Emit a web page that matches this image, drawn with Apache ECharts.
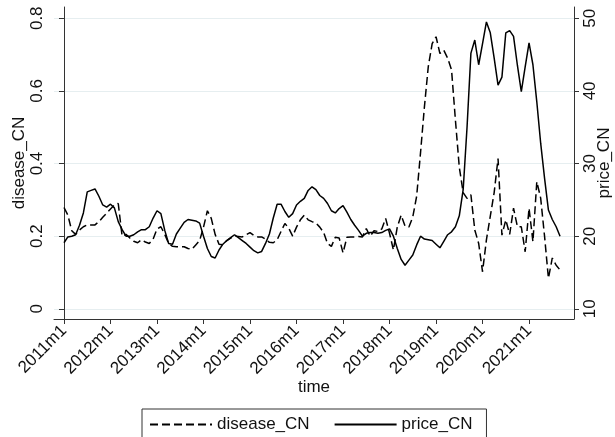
<!DOCTYPE html>
<html>
<head>
<meta charset="utf-8">
<script src="https://cdn.jsdelivr.net/npm/echarts@6/dist/echarts.min.js"></script>
<style>
html,body{margin:0;padding:0;background:#fff;}
#c{width:615px;height:437px;}
</style>
</head>
<body>
<div id="c"></div>
<script>
// Monthly observations, 2011m1 .. 2021m9
const startYear = 2011;
const diseaseCN = [
0.279,0.258,0.215,0.205,0.217,0.226,0.231,0.231,0.231,0.240,0.252,0.263,
0.275,0.286,0.290,0.200,0.205,0.195,0.186,0.182,0.190,0.184,0.180,0.192,
0.220,0.226,0.205,0.180,0.172,0.171,0.171,0.171,0.166,0.164,0.176,0.188,
0.225,0.270,0.249,0.205,0.178,0.176,0.188,0.195,0.200,0.199,0.198,0.204,
0.210,0.202,0.198,0.198,0.192,0.183,0.182,0.190,0.213,0.235,0.222,0.200,
0.225,0.245,0.258,0.245,0.240,0.236,0.225,0.210,0.180,0.172,0.197,0.195,
0.154,0.197,0.198,0.198,0.199,0.198,0.221,0.200,0.215,0.213,0.220,0.249,
0.208,0.162,0.225,0.258,0.228,0.225,0.253,0.310,0.430,0.556,0.667,0.730,
0.749,0.703,0.712,0.690,0.658,0.520,0.390,0.320,0.304,0.314,0.217,0.180,
0.102,0.190,0.255,0.320,0.414,0.203,0.245,0.205,0.277,0.226,0.226,0.157,
0.277,0.185,0.350,0.305,0.200,0.084,0.140,0.120,0.107
];
const priceCN = [
19.1,19.9,20.0,20.2,21.5,23.2,26.1,26.3,26.5,25.5,24.3,24.0,
24.4,23.9,22.0,20.9,20.0,20.0,20.2,20.6,20.9,20.9,21.3,22.5,
23.5,23.1,20.8,19.0,18.9,20.3,21.1,21.9,22.3,22.2,22.1,21.8,
20.0,18.3,17.2,17.0,18.1,18.9,19.4,19.8,20.2,19.8,19.4,19.0,
18.5,18.0,17.7,17.9,19.0,20.3,22.5,24.4,24.4,23.4,22.6,23.1,
24.3,24.8,25.2,26.3,26.8,26.4,25.6,25.2,24.5,23.5,23.2,23.8,
24.2,23.3,22.3,21.5,20.8,20.0,20.4,20.5,20.5,20.4,20.5,20.8,
21.0,20.0,18.3,16.8,16.0,16.7,17.4,18.8,20.0,19.6,19.5,19.4,
18.9,18.4,19.3,20.2,20.6,21.3,22.8,26.4,35.0,45.2,47.0,43.6,
46.5,49.5,48.0,44.5,40.8,41.9,48.0,48.3,47.5,43.5,39.9,43.3,
46.6,43.6,38.5,32.8,28.0,23.6,22.3,21.3,20.0
];
const timeTickLabels = ['2011m1','2012m1','2013m1','2014m1','2015m1','2016m1','2017m1','2018m1','2019m1','2020m1','2021m1'];
const leftTickLabels = ['0','0.2','0.4','0.6','0.8'];
const rightTickLabels = ['10','20','30','40','50'];

const timeTickPos = timeTickLabels.map(s => (parseInt(s) - startYear) * 12);
const leftTickPos = leftTickLabels.map(Number);
const rightTickPos = rightTickLabels.map(Number);

const FONT = 'Liberation Sans, Arial, sans-serif';
const AX = '#333';

const chart = echarts.init(document.getElementById('c'), null, {renderer: 'canvas'});
chart.setOption({
  animation: false,
  backgroundColor: '#fff',
  grid: {left: 54, right: 41, top: 7, bottom: 118, containLabel: false, outerBoundsMode: 'none'},
  legend: {
    left: 142, top: 409,
    itemWidth: 62, itemHeight: 12, itemGap: 24,
    padding: [7, 14, 8, 7],
    borderColor: '#333', borderWidth: 1,
    itemStyle: {opacity: 0},
    textStyle: {fontFamily: FONT, fontSize: 17, color: '#111'},
    data: ['disease_CN', 'price_CN']
  },
  xAxis: {
    type: 'value', min: -2.58, max: 131.6,
    name: 'time', nameLocation: 'middle', nameGap: 60, nameMoveOverlap: false,
    nameTextStyle: {fontFamily: FONT, fontSize: 17, color: '#111'},
    axisLine: {show: true, onZero: false, lineStyle: {color: AX, width: 1}},
    axisTick: {show: true, length: 5, customValues: timeTickPos, lineStyle: {color: AX}},
    axisLabel: {
      customValues: timeTickPos, rotate: 45, margin: 9,
      fontFamily: FONT, fontSize: 17, color: '#111',
      formatter: v => timeTickLabels[timeTickPos.indexOf(Math.round(v))] || ''
    },
    splitLine: {show: false}
  },
  yAxis: [
    {
      type: 'value', min: -0.028, max: 0.831, position: 'left',
      name: 'disease_CN', nameLocation: 'middle', nameGap: 26, nameRotate: 90, nameMoveOverlap: false,
      nameTextStyle: {fontFamily: FONT, fontSize: 17, color: '#111'},
      axisLine: {show: true, lineStyle: {color: AX, width: 1}},
      axisTick: {show: true, length: 5, customValues: leftTickPos, lineStyle: {color: AX}},
      axisLabel: {customValues: leftTickPos, rotate: 90, margin: 8,
        fontFamily: FONT, fontSize: 17, color: '#111',
        formatter: v => leftTickLabels[leftTickPos.indexOf(+v.toFixed(1))] || ''},
      splitLine: {show: true, customValues: leftTickPos, lineStyle: {color: '#e6eef0', width: 1}}
    },
    {
      type: 'value', min: 8.6, max: 51.55, position: 'right',
      name: 'price_CN', nameLocation: 'middle', nameGap: 22, nameRotate: 90, nameMoveOverlap: false,
      nameTextStyle: {fontFamily: FONT, fontSize: 17, color: '#111'},
      axisLine: {show: true, lineStyle: {color: AX, width: 1}},
      axisTick: {show: true, length: 5, customValues: rightTickPos, lineStyle: {color: AX}},
      axisLabel: {customValues: rightTickPos, rotate: 90, margin: 8,
        fontFamily: FONT, fontSize: 17, color: '#111'},
      splitLine: {show: false}
    }
  ],
  series: [
    {
      name: 'disease_CN', type: 'line', yAxisIndex: 0,
      symbol: 'none', smooth: false,
      lineStyle: {color: '#000', width: 1.5, type: [8, 4]},
      itemStyle: {color: '#000'},
      data: diseaseCN.map((v, i) => [i, v])
    },
    {
      name: 'price_CN', type: 'line', yAxisIndex: 1,
      symbol: 'none', smooth: false,
      lineStyle: {color: '#000', width: 1.5},
      itemStyle: {color: '#000'},
      data: priceCN.map((v, i) => [i, v])
    }
  ]
});
</script>
</body>
</html>
